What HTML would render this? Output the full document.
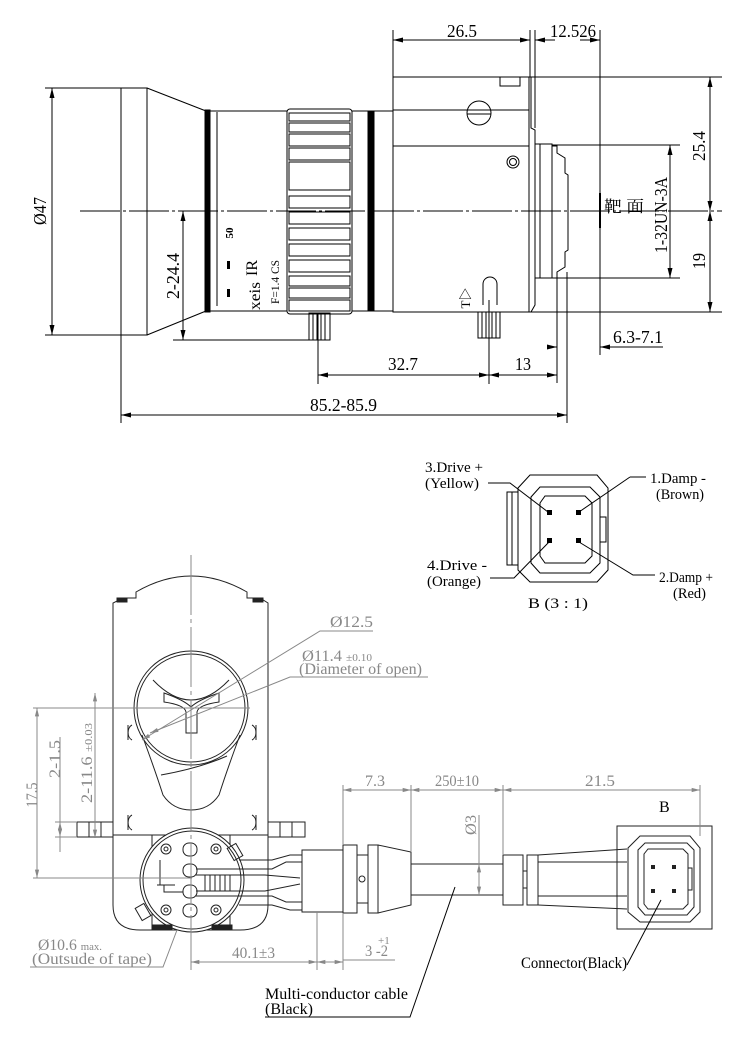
<!DOCTYPE html>
<html><head><meta charset="utf-8"><style>
html,body{margin:0;padding:0;background:#fff;}
svg{display:block;}
text{font-family:"Liberation Serif","Noto Serif CJK SC",serif;}
</style></head><body>
<svg width="750" height="1050" viewBox="0 0 750 1050" xmlns="http://www.w3.org/2000/svg">
<defs>
<marker id="a" viewBox="0 0 10 6" refX="10" refY="3" markerWidth="10" markerHeight="6" orient="auto-start-reverse" markerUnits="userSpaceOnUse"><path d="M0,0.5L10,3L0,5.5z" fill="#000"/></marker>
<marker id="g" viewBox="0 0 10 6" refX="10" refY="3" markerWidth="9" markerHeight="5" orient="auto-start-reverse" markerUnits="userSpaceOnUse"><path d="M0,0.5L10,3L0,5.5z" fill="#888"/></marker>
</defs>
<!-- ============ TOP VIEW ============ -->
<g stroke="#000" fill="none" stroke-width="1">
<line x1="80" y1="211" x2="722" y2="211" stroke-dasharray="40,3,3,3"/>
<!-- hood -->
<rect x="121" y="88" width="26" height="247"/>
<path d="M147,88 L206,111 L206,311 L147,335"/>
<rect x="205" y="110" width="5" height="202" fill="#000"/>
<!-- barrel -->
<rect x="210" y="111" width="77" height="200"/>
<line x1="217" y1="112" x2="217" y2="306"/>
<!-- focus ring -->
<rect x="287" y="109" width="65" height="205" rx="3"/>
<g>
<rect x="289" y="113" width="61" height="8"/><rect x="289" y="123" width="61" height="9"/><rect x="289" y="134" width="61" height="12"/><rect x="289" y="148" width="61" height="12"/><rect x="289" y="162" width="61" height="28"/><rect x="289" y="196" width="61" height="12"/><rect x="289" y="212" width="61" height="12"/><rect x="289" y="228" width="61" height="12"/><rect x="289" y="244" width="61" height="12"/><rect x="289" y="260" width="61" height="12"/><rect x="289" y="276" width="61" height="10"/><rect x="289" y="288" width="61" height="10"/><rect x="289" y="300" width="61" height="11"/>
</g>
<rect x="352" y="111" width="41" height="200"/>
<rect x="368" y="111" width="6" height="200" fill="#000"/>
<!-- body -->
<rect x="393" y="77" width="136" height="235"/>
<line x1="393" y1="110" x2="529" y2="110"/>
<line x1="393" y1="146" x2="529" y2="146"/>
<rect x="500" y="77" width="20" height="9"/>
<circle cx="479" cy="113" r="12"/>
<line x1="467" y1="114" x2="491" y2="114"/>
<circle cx="513" cy="162" r="6"/><circle cx="513" cy="162" r="3.5"/>
<path d="M529,77 L531,77 L531,128 L535,130 L535,305 L531,312 L529,312"/>
<!-- mount -->
<path d="M535,144 L552,144 L552,278 L535,278"/>
<line x1="540" y1="144" x2="540" y2="278"/>
<path d="M552,146 L557,146 L557,153 L565,158 L565,173 L568,175 L568,250 L565,252 L565,267 L557,272 L557,278 L552,278"/>
<!-- iris pin slot -->
<path d="M483,305 L483,284 A7,7 0 0 1 497,284 L497,305"/>
<!-- pins -->
<rect x="309" y="313" width="21" height="27"/><line x1="313" y1="313" x2="313" y2="340"/><line x1="317" y1="313" x2="317" y2="340"/><line x1="321" y1="313" x2="321" y2="340"/><line x1="325" y1="313" x2="325" y2="340"/><line x1="318" y1="313" x2="318" y2="384"/>
<rect x="478" y="312" width="22" height="26"/><line x1="482" y1="312" x2="482" y2="338"/><line x1="486" y1="312" x2="486" y2="338"/><line x1="492" y1="312" x2="492" y2="338"/><line x1="496" y1="312" x2="496" y2="338"/><line x1="489" y1="300" x2="489" y2="384"/>
<!-- dims -->
<line x1="393" y1="30" x2="393" y2="77"/>
<line x1="530" y1="30" x2="530" y2="77"/>
<line x1="535" y1="30" x2="535" y2="128"/>
<line x1="600" y1="30" x2="600" y2="355"/>
<line x1="393" y1="40" x2="530" y2="40" marker-start="url(#a)" marker-end="url(#a)"/>
<line x1="535" y1="40" x2="555" y2="40" marker-start="url(#a)"/>
<line x1="580" y1="40" x2="600" y2="40" marker-end="url(#a)"/>
<line x1="529" y1="77" x2="722" y2="77"/>
<line x1="529" y1="312" x2="722" y2="312"/>
<line x1="710" y1="77" x2="710" y2="211" marker-start="url(#a)" marker-end="url(#a)"/>
<line x1="710" y1="211" x2="710" y2="312" marker-start="url(#a)" marker-end="url(#a)"/>
<line x1="552" y1="145" x2="680" y2="145"/>
<line x1="552" y1="278" x2="680" y2="278"/>
<line x1="670" y1="145" x2="670" y2="278" marker-start="url(#a)" marker-end="url(#a)"/>
<line x1="600" y1="193" x2="600" y2="228" stroke-width="2"/>
<line x1="183" y1="211" x2="183" y2="340" marker-start="url(#a)" marker-end="url(#a)"/>
<line x1="173" y1="340" x2="318" y2="340"/>
<line x1="52" y1="88" x2="52" y2="335" marker-start="url(#a)" marker-end="url(#a)"/>
<line x1="45" y1="88" x2="121" y2="88"/><line x1="45" y1="335" x2="121" y2="335"/>
<line x1="121" y1="335" x2="121" y2="423"/>
<line x1="567" y1="272" x2="567" y2="423"/>
<line x1="557" y1="277" x2="557" y2="383"/>
<line x1="318" y1="375" x2="489" y2="375" marker-start="url(#a)" marker-end="url(#a)"/>
<line x1="489" y1="375" x2="557" y2="375" marker-start="url(#a)" marker-end="url(#a)"/>
<line x1="547" y1="347" x2="557" y2="347" marker-end="url(#a)"/>
<line x1="600" y1="347" x2="663" y2="347" marker-start="url(#a)"/>
<line x1="121" y1="415" x2="567" y2="415" marker-start="url(#a)" marker-end="url(#a)"/>
</g>
<rect x="227" y="261" width="3" height="8" fill="#000"/><rect x="227" y="289" width="3" height="8" fill="#000"/>
<g font-size="18" fill="#000">
<text x="447" y="37" textLength="30" lengthAdjust="spacingAndGlyphs">26.5</text>
<text x="550" y="37" textLength="46" lengthAdjust="spacingAndGlyphs">12.526</text>
<text transform="translate(705,146) rotate(-90)" text-anchor="middle" textLength="30" lengthAdjust="spacingAndGlyphs">25.4</text>
<text transform="translate(705,261) rotate(-90)" text-anchor="middle" textLength="16" lengthAdjust="spacingAndGlyphs">19</text>
<text transform="translate(667,215) rotate(-90)" text-anchor="middle" textLength="76" lengthAdjust="spacingAndGlyphs">1-32UN-3A</text>
<text x="604" y="212" font-size="16" textLength="40" lengthAdjust="spacingAndGlyphs">靶 面</text>
<text transform="translate(179,276) rotate(-90)" text-anchor="middle" textLength="46" lengthAdjust="spacingAndGlyphs">2-24.4</text>
<text transform="translate(46,211) rotate(-90)" text-anchor="middle" textLength="28" lengthAdjust="spacingAndGlyphs">Ø47</text>
<text x="388" y="370" textLength="30" lengthAdjust="spacingAndGlyphs">32.7</text>
<text x="515" y="370" textLength="16" lengthAdjust="spacingAndGlyphs">13</text>
<text x="613" y="343" textLength="50" lengthAdjust="spacingAndGlyphs">6.3-7.1</text>
<text x="310" y="411" textLength="67" lengthAdjust="spacingAndGlyphs">85.2-85.9</text>
<text transform="translate(233,233) rotate(-90)" text-anchor="middle" font-size="11" font-family="Liberation Sans" font-weight="bold">50</text>
<text transform="translate(257,268) rotate(-90)" text-anchor="middle" font-size="16" textLength="16" lengthAdjust="spacingAndGlyphs">IR</text>
<text transform="translate(260,296) rotate(-90)" text-anchor="middle" font-size="16" textLength="28" lengthAdjust="spacingAndGlyphs">xeis</text>
<text transform="translate(279,282) rotate(-90)" text-anchor="middle" font-size="12" textLength="44" lengthAdjust="spacingAndGlyphs">F=1.4 CS</text>
<text transform="translate(470,298) rotate(-90)" text-anchor="middle" font-size="13">T▷</text>
</g>
<!-- ============ CONNECTOR DETAIL B ============ -->
<g stroke="#000" fill="none" stroke-width="1">
<path d="M530,475 L597,475 L608,488 L608,570 L597,582 L530,582 L518,570 L518,488 Z"/>
<path d="M540,487 L590,487 L600,497 L600,563 L590,573 L540,573 L531,563 L531,497 Z"/>
<path d="M545,496 L585,496 L592,503 L592,556 L585,563 L545,563 L540,556 L540,503 Z"/>
<path d="M518,492 L507,492 L507,565 L518,565"/>
<line x1="512" y1="492" x2="512" y2="565"/>
<path d="M600,517 L606,517 L606,542 L600,542"/>
<path d="M488,483 L510,483 L548,512"/>
<path d="M630,477 L646,477 M630,477 L579,512"/>
<path d="M490,578 L514,578 L549,542"/>
<path d="M579,542 L633,575 L655,575"/>
</g>
<g fill="#000"><rect x="547" y="510" width="5" height="5"/><rect x="576" y="510" width="5" height="5"/><rect x="547" y="538" width="5" height="5"/><rect x="576" y="538" width="5" height="5"/></g>
<g font-size="15" fill="#000">
<text x="425" y="472" textLength="58" lengthAdjust="spacingAndGlyphs">3.Drive +</text>
<text x="425" y="488" textLength="54" lengthAdjust="spacingAndGlyphs">(Yellow)</text>
<text x="650" y="483" textLength="56" lengthAdjust="spacingAndGlyphs">1.Damp -</text>
<text x="656" y="499" textLength="48" lengthAdjust="spacingAndGlyphs">(Brown)</text>
<text x="427" y="570" textLength="60" lengthAdjust="spacingAndGlyphs">4.Drive -</text>
<text x="427" y="586" textLength="54" lengthAdjust="spacingAndGlyphs">(Orange)</text>
<text x="659" y="582" textLength="54" lengthAdjust="spacingAndGlyphs">2.Damp +</text>
<text x="673" y="598" textLength="33" lengthAdjust="spacingAndGlyphs">(Red)</text>
<text x="528" y="608" textLength="60" lengthAdjust="spacingAndGlyphs">B (3 : 1)</text>
</g>
<!-- ============ BOTTOM VIEW ============ -->
<g stroke="#222" fill="none" stroke-width="1">
<path d="M113,603 L113,905 Q113,930 140,930 L240,930 Q268,930 268,905 L268,603 L260,598 L247,598 L247,592 Q191,560 136,592 L136,598 L123,598 Z"/>
<rect x="117" y="598" width="10" height="4" fill="#222"/><rect x="253" y="598" width="10" height="4" fill="#222"/>
<line x1="113" y1="835" x2="268" y2="835"/>
<rect x="77" y="822" width="36" height="15"/><line x1="89" y1="822" x2="89" y2="837"/><line x1="101" y1="822" x2="101" y2="837"/>
<rect x="268" y="822" width="37" height="15"/><line x1="280" y1="822" x2="280" y2="837"/><line x1="292" y1="822" x2="292" y2="837"/>
<circle cx="191" cy="708" r="57"/>
<circle cx="191" cy="708" r="54"/>
<path d="M153,680 Q191,720 229,680"/>
<path d="M164,693 L164,702 Q185,705 186,712 L186,733 L197,733 L197,712 Q198,705 219,702 L219,693 Q198,700 191,707 Q184,700 164,693 Z"/>
<path d="M142,735 Q155,770 163,795 Q173,810 191,810 Q209,810 219,795 Q227,770 240,735"/>
<path d="M161,775 Q200,768 227,756"/>
<path d="M132,725 A6,8 0 0 0 132,740 M128,725 L128,740"/>
<path d="M252,725 A6,8 0 0 1 252,740 M256,725 L256,740"/>
<path d="M132,815 A6,8 0 0 0 132,830 M128,815 L128,830"/>
<path d="M252,815 A6,8 0 0 1 252,830 M256,815 L256,830"/>
<rect x="152" y="835" width="78" height="92"/>
<circle cx="192" cy="880" r="52" fill="#fff"/>
<circle cx="192" cy="880" r="49"/>
<circle cx="166" cy="849" r="5"/><circle cx="166" cy="849" r="2"/>
<circle cx="216" cy="849" r="5"/><circle cx="216" cy="849" r="2"/>
<circle cx="166" cy="910" r="5"/><circle cx="166" cy="910" r="2"/>
<circle cx="216" cy="910" r="5"/><circle cx="216" cy="910" r="2"/>
<rect x="183" y="843" width="14" height="13" rx="6"/><rect x="183" y="864" width="14" height="13" rx="6"/><rect x="183" y="885" width="14" height="13" rx="6"/><rect x="183" y="904" width="14" height="13" rx="6"/>
<path d="M196,869 L272,869 L286,862 L302,862 M196,875 L265,875 L300,878 M196,891 L265,891 L300,884 M196,896 L272,896 L286,902 L302,902"/>
<path d="M239,860 L272,860 L290,855 L302,855 M239,905 L272,905 L290,910 L302,910"/>
<path d="M205,875 L205,891 M210,875 L210,891 M215,875 L215,891 M220,875 L220,891 M225,875 L225,891 M230,875 L230,891"/>
<path d="M160,860 L160,885 L175,885 M157,885 L164,885 L164,892 L183,892"/>
<rect x="138" y="905" width="10" height="14" transform="rotate(-30 143 912)"/>
<rect x="230" y="845" width="10" height="14" transform="rotate(-30 235 852)"/>
<rect x="152" y="925" width="20" height="4" fill="#222"/><rect x="212" y="925" width="20" height="4" fill="#222"/>
<rect x="302" y="850" width="41" height="62"/>
<rect x="343" y="845" width="14" height="68"/>
<rect x="357" y="855" width="11" height="48"/>
<circle cx="362" cy="879" r="3"/>
<rect x="368" y="845" width="10" height="68"/>
<path d="M378,845 L411,852 L411,905 L378,913"/>
<line x1="411" y1="864" x2="503" y2="864"/><line x1="411" y1="895" x2="503" y2="895"/>
<rect x="503" y="855" width="20" height="50"/>
<rect x="527" y="855" width="11" height="50"/>
<path d="M523,855 L523,871 L527,871 M523,905 L523,888 L527,888"/>
<path d="M538,855 L627,849 M538,862 L627,862 M538,896 L627,896 M538,905 L627,909"/>
<rect x="617" y="826" width="95" height="103"/>
<path d="M640,836 L690,836 L700,848 L700,912 L690,922 L640,922 L628,912 L628,848 Z"/>
<path d="M645,843 L687,843 L694,850 L694,907 L687,915 L645,915 L638,907 L638,850 Z"/>
<path d="M648,849 L683,849 L688,854 L688,904 L683,909 L648,909 L644,904 L644,854 Z"/>
<path d="M688,868 L692,868 L692,890 L688,890"/>
</g>
<g fill="#222"><rect x="651" y="865" width="4" height="4"/><rect x="672" y="865" width="4" height="4"/><rect x="651" y="889" width="4" height="4"/><rect x="672" y="889" width="4" height="4"/></g>
<g stroke="#888" fill="none" stroke-width="1">
<line x1="191" y1="555" x2="191" y2="950" stroke-dasharray="60,4,4,4"/>
<line x1="33" y1="708" x2="250" y2="708"/>
<line x1="33" y1="878" x2="192" y2="878"/>
<line x1="37" y1="708" x2="37" y2="878" marker-start="url(#g)" marker-end="url(#g)"/>
<line x1="60" y1="737" x2="60" y2="852"/><line x1="60" y1="822" x2="60" y2="837" marker-start="url(#g)" marker-end="url(#g)"/>
<line x1="55" y1="822" x2="77" y2="822"/><line x1="55" y1="837" x2="77" y2="837"/>
<line x1="95" y1="693" x2="95" y2="838" marker-start="url(#g)" marker-end="url(#g)"/>
<path d="M373,631 L320,631 L142,740" marker-end="url(#g)"/>
<path d="M428,677 L290,677 L150,733" marker-end="url(#g)"/>
<path d="M30,967 L163,967 L177,930"/>
<line x1="191" y1="930" x2="191" y2="970"/>
<line x1="317" y1="912" x2="317" y2="970"/>
<line x1="343" y1="913" x2="343" y2="970"/>
<line x1="191" y1="962" x2="317" y2="962" marker-start="url(#g)" marker-end="url(#g)"/>
<line x1="317" y1="962" x2="343" y2="962" marker-start="url(#g)" marker-end="url(#g)"/>
<line x1="343" y1="960" x2="395" y2="960"/>
<line x1="343" y1="785" x2="343" y2="845"/>
<line x1="411" y1="785" x2="411" y2="852"/>
<line x1="503" y1="785" x2="503" y2="855"/>
<line x1="700" y1="785" x2="700" y2="836"/>
<line x1="343" y1="790" x2="411" y2="790" marker-start="url(#g)" marker-end="url(#g)"/>
<line x1="411" y1="790" x2="503" y2="790" marker-start="url(#g)" marker-end="url(#g)"/>
<line x1="503" y1="790" x2="700" y2="790" marker-start="url(#g)" marker-end="url(#g)"/>
<line x1="479" y1="815" x2="479" y2="864"/>
<line x1="479" y1="864" x2="479" y2="895" marker-start="url(#g)" marker-end="url(#g)"/>
</g>
<g stroke="#000" fill="none" stroke-width="1">
<path d="M265,1017 L410,1017 L455,887"/>
<path d="M627,965 L661,900"/>
</g>
<g font-size="16" fill="#888">
<text x="330" y="627" textLength="43" lengthAdjust="spacingAndGlyphs">Ø12.5</text>
<text x="302" y="661" textLength="70" lengthAdjust="spacingAndGlyphs">Ø11.4 <tspan font-size="11">±0.10</tspan></text>
<text x="299" y="674" textLength="123" lengthAdjust="spacingAndGlyphs">(Diameter of open)</text>
<text x="38" y="950" textLength="64" lengthAdjust="spacingAndGlyphs">Ø10.6 <tspan font-size="11">max.</tspan></text>
<text x="32" y="964" textLength="120" lengthAdjust="spacingAndGlyphs">(Outsude of tape)</text>
<text x="232" y="958" textLength="43" lengthAdjust="spacingAndGlyphs">40.1±3</text>
<text x="365" y="956" textLength="23" lengthAdjust="spacingAndGlyphs">3 -2</text>
<text x="378" y="944" font-size="11">+1</text>
<text x="365" y="786" textLength="20" lengthAdjust="spacingAndGlyphs">7.3</text>
<text x="435" y="786" textLength="44" lengthAdjust="spacingAndGlyphs">250±10</text>
<text x="585" y="786" textLength="30" lengthAdjust="spacingAndGlyphs">21.5</text>
<text transform="translate(476,825) rotate(-90)" text-anchor="middle" textLength="20" lengthAdjust="spacingAndGlyphs">Ø3</text>
<text transform="translate(37,795) rotate(-90)" text-anchor="middle" textLength="25" lengthAdjust="spacingAndGlyphs">17.5</text>
<text transform="translate(60,759) rotate(-90)" text-anchor="middle" textLength="38" lengthAdjust="spacingAndGlyphs">2-1.5</text>
<text transform="translate(92,763) rotate(-90)" text-anchor="middle" textLength="80" lengthAdjust="spacingAndGlyphs">2-11.6 <tspan font-size="11">±0.03</tspan></text>
</g>
<g font-size="16" fill="#000">
<text x="659" y="812">B</text>
<text x="521" y="968" textLength="106" lengthAdjust="spacingAndGlyphs">Connector(Black)</text>
<text x="265" y="999" textLength="143" lengthAdjust="spacingAndGlyphs">Multi-conductor cable</text>
<text x="265" y="1014" textLength="48" lengthAdjust="spacingAndGlyphs">(Black)</text>
</g>
</svg>
</body></html>
